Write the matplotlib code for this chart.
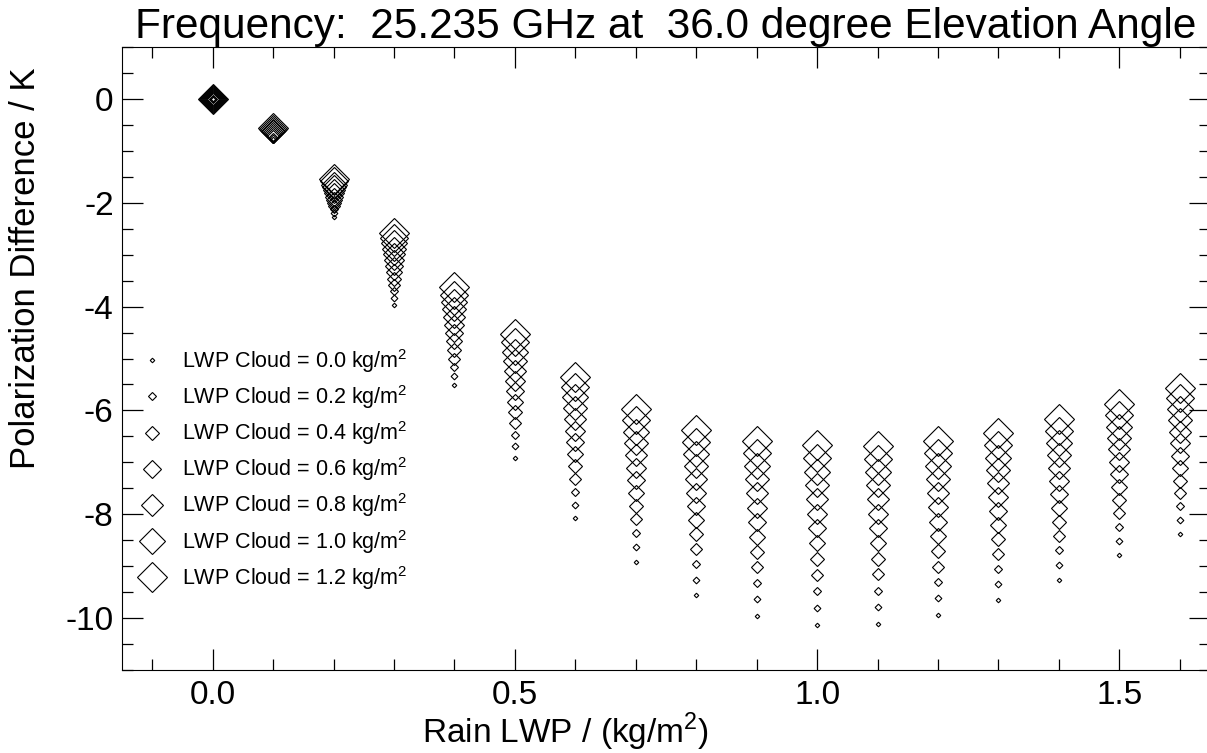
import numpy as np
import matplotlib
matplotlib.use('Agg')
import matplotlib.pyplot as plt
from matplotlib.ticker import MultipleLocator

plt.rcParams['font.family'] = ['Liberation Sans', 'DejaVu Sans']
plt.rcParams['mathtext.fontset'] = 'custom'
plt.rcParams['mathtext.rm'] = 'Liberation Sans'
plt.rcParams['axes.unicode_minus'] = False

# rain liquid water path (x axis)
rain_lwp = [0.0, 0.1, 0.2, 0.3, 0.4, 0.5, 0.6, 0.7, 0.8, 0.9, 1.0, 1.1, 1.2, 1.3, 1.4, 1.5, 1.6]
# cloud liquid water path levels
cloud_lwp = [0.0, 0.1, 0.2, 0.3, 0.4, 0.5, 0.6, 0.7, 0.8, 0.9, 1.0, 1.1, 1.2]

# polarization difference (K), one list per cloud level
pd_c00 = [0, -0.77, -2.27, -3.96, -5.52, -6.92, -8.08, -8.92, -9.56, -9.96, -10.13, -10.12, -9.94, -9.65, -9.27, -8.79, -8.38]
pd_c01 = [0, -0.75, -2.20, -3.83, -5.34, -6.69, -7.82, -8.64, -9.26, -9.64, -9.80, -9.79, -9.62, -9.35, -8.98, -8.51, -8.11]
pd_c02 = [0, -0.73, -2.13, -3.70, -5.17, -6.47, -7.57, -8.37, -8.96, -9.33, -9.48, -9.48, -9.31, -9.05, -8.69, -8.25, -7.85]
pd_c03 = [0, -0.71, -2.07, -3.58, -5.00, -6.25, -7.32, -8.10, -8.67, -9.02, -9.17, -9.16, -9.01, -8.76, -8.41, -7.98, -7.60]
pd_c04 = [0, -0.69, -2.00, -3.46, -4.83, -6.04, -7.08, -7.84, -8.39, -8.72, -8.86, -8.86, -8.71, -8.48, -8.14, -7.73, -7.35]
pd_c05 = [0, -0.68, -1.94, -3.34, -4.66, -5.83, -6.84, -7.59, -8.12, -8.43, -8.56, -8.56, -8.42, -8.20, -7.87, -7.47, -7.10]
pd_c06 = [0, -0.66, -1.88, -3.22, -4.51, -5.63, -6.61, -7.34, -7.85, -8.15, -8.27, -8.27, -8.14, -7.93, -7.61, -7.23, -6.87]
pd_c07 = [0, -0.64, -1.82, -3.11, -4.35, -5.43, -6.39, -7.10, -7.59, -7.87, -7.99, -7.99, -7.86, -7.66, -7.35, -6.99, -6.63]
pd_c08 = [0, -0.62, -1.76, -2.99, -4.20, -5.24, -6.17, -6.86, -7.33, -7.59, -7.71, -7.71, -7.59, -7.40, -7.10, -6.75, -6.41]
pd_c09 = [0, -0.61, -1.70, -2.89, -4.05, -5.05, -5.96, -6.63, -7.08, -7.33, -7.44, -7.44, -7.33, -7.15, -6.86, -6.53, -6.19]
pd_c10 = [0, -0.59, -1.65, -2.78, -3.91, -4.87, -5.75, -6.41, -6.84, -7.07, -7.18, -7.18, -7.07, -6.91, -6.62, -6.31, -5.97]
pd_c11 = [0, -0.58, -1.59, -2.68, -3.77, -4.69, -5.55, -6.19, -6.60, -6.82, -6.92, -6.93, -6.82, -6.67, -6.39, -6.09, -5.76]
pd_c12 = [0, -0.56, -1.54, -2.58, -3.63, -4.52, -5.35, -5.98, -6.37, -6.58, -6.67, -6.68, -6.58, -6.44, -6.17, -5.88, -5.56]

series = [pd_c00, pd_c01, pd_c02, pd_c03, pd_c04, pd_c05, pd_c06,
          pd_c07, pd_c08, pd_c09, pd_c10, pd_c11, pd_c12]

fig = plt.figure(figsize=(12.07, 7.53), dpi=100)
ax = fig.add_axes([122/1207, 83/753, 1088/1207, 623/753])

handles = []
for c, vals in zip(cloud_lwp, series):
    # marker grows with cloud water
    ms = 2.3 + c * 11.2
    h, = ax.plot(rain_lwp, vals, linestyle='none', marker='D', ms=ms,
                 mfc='none', mec='black', mew=0.8,
                 label='LWP Cloud = %.1f kg/m$^2$' % c)
    handles.append(h)

# legend shows every other cloud level
leg = ax.legend(handles=handles[::2], loc='upper left',
                bbox_to_anchor=(0.0035, 0.543), frameon=False, fontsize=15.5,
                handlelength=1.0, handletextpad=0.9, labelspacing=0.385,
                borderaxespad=0.3, numpoints=1)

ax.set_xlim(-0.15, 1.65)
ax.set_ylim(-11, 1)
ax.xaxis.set_major_locator(MultipleLocator(0.5))
ax.xaxis.set_minor_locator(MultipleLocator(0.1))
ax.yaxis.set_major_locator(MultipleLocator(2))
ax.yaxis.set_minor_locator(MultipleLocator(0.5))
ax.xaxis.set_major_formatter(matplotlib.ticker.FormatStrFormatter('%.1f'))
ax.tick_params(which='both', direction='in', top=True, right=True,
               labelsize=24)
ax.tick_params(axis='x', which='both', pad=7)
ax.tick_params(axis='y', which='both', pad=6)
ax.tick_params(which='major', length=15, width=0.9)
ax.tick_params(which='minor', length=8, width=0.9)

ax.set_xlabel('Rain LWP / (kg/m$^2$)', fontsize=24)
ax.xaxis.set_label_coords(0.408, -0.066)
ax.set_ylabel('Polarization Difference / K', fontsize=25)
ax.yaxis.set_label_coords(-0.0735, 0.645)
ax.set_title('Frequency:  25.235 GHz at  36.0 degree Elevation Angle',
             fontsize=30.5, pad=6)

fig.savefig('out.png', dpi=100)
